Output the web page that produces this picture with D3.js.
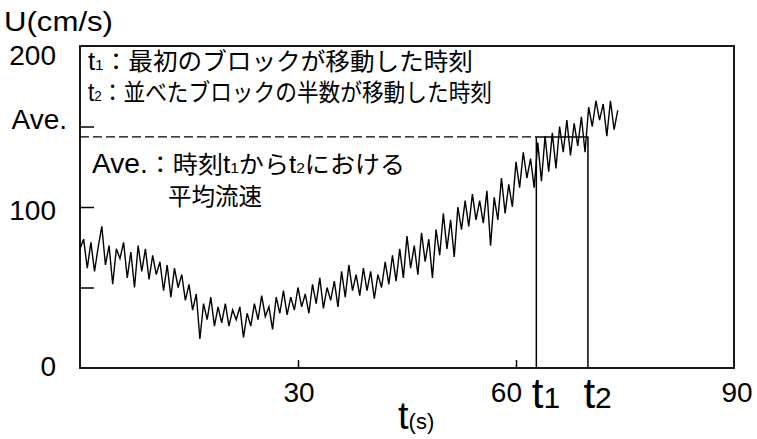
<!DOCTYPE html>
<html><head><meta charset="utf-8">
<script src="https://cdn.jsdelivr.net/npm/d3@7"></script>
<style>
html,body{margin:0;padding:0;background:#fff;}
svg{display:block;}
text{fill:#000;}
</style></head>
<body>
<svg id="c" width="757" height="439"></svg>
<script>
// ---- data ----
const sampleStep = 0.5; // seconds between samples
const velocity = [
  74, 80, 62, 78, 60, 75, 88, 64, 76, 52,
  74, 68, 78, 56, 72, 50, 76, 60, 74, 55,
  70, 58, 66, 48, 64, 44, 62, 50, 58, 42,
  52, 36, 46, 18, 40, 30, 44, 26, 38, 28,
  40, 26, 36, 30, 38, 19, 34, 26, 40, 30,
  45, 32, 38, 24, 44, 34, 48, 33, 44, 36,
  50, 38, 46, 34, 52, 40, 56, 37, 50, 42,
  54, 38, 60, 44, 64, 48, 58, 45, 62, 48,
  60, 43, 58, 50, 66, 52, 70, 54, 74, 56,
  82, 62, 76, 58, 84, 66, 80, 56, 86, 70,
  96, 74, 92, 69, 100, 86, 104, 88, 108, 92,
  104, 90, 110, 76, 106, 92, 118, 96, 114, 100,
  128, 112, 134, 118, 130, 112, 140, 116, 144, 122,
  146, 124, 150, 134, 154, 132, 152, 138, 156, 134,
  162, 150, 166, 154, 164, 144, 166, 148, 160
];
const t1 = 62.8;
const t2 = 69.9;
const aveValue = 143.5;
const yTickValues = [50, 100, 150];
const yLabelValues = [200, 150, 100, 0];
const yLabelTexts = ["200", "Ave.", "100", "0"];
const xTickValues = [30, 60];
const xLabelValues = [30, 60, 90];
const xLabelTexts = ["30", "60", "90"];
const legendLines = [
  "t1：最初のブロックが移動した時刻",
  "t2：並べたブロックの半数が移動した時刻",
  "Ave.：時刻t1からt2における",
  "平均流速"
];

// ---- chart ----
const svg = d3.select("#c");
const L = 80, R = 734, T = 46, B = 368;
const x = d3.scaleLinear().domain([0, 90]).range([L, R]);
const y = d3.scaleLinear().domain([0, 200]).range([B, T]);
const latin = "'Liberation Sans', Arial, sans-serif";
const cjk = "'Noto Sans CJK JP', sans-serif";

const series = velocity.map((v, i) => ({t: i * sampleStep, v}));

// data line
svg.append("path")
  .datum(series)
  .attr("fill", "none")
  .attr("stroke", "#000")
  .attr("stroke-width", 1.4)
  .attr("stroke-linejoin", "miter")
  .attr("d", d3.line().x(d => x(d.t)).y(d => y(d.v)));

// ticks (inside)
svg.append("g").attr("transform", `translate(${L},0)`)
  .call(d3.axisLeft(y).tickValues(yTickValues).tickSize(-14).tickFormat(""))
  .call(g => g.select(".domain").remove())
  .call(g => g.selectAll("line").attr("stroke-width", 1.5));
svg.append("g").attr("transform", `translate(0,${B})`)
  .call(d3.axisBottom(x).tickValues(xTickValues).tickSize(-8).tickFormat(""))
  .call(g => g.select(".domain").remove())
  .call(g => g.selectAll("line").attr("stroke-width", 1.5));

// dashed average line
svg.append("line")
  .attr("x1", x(0)).attr("x2", x(t1))
  .attr("y1", y(aveValue)).attr("y2", y(aveValue))
  .attr("stroke", "#000").attr("stroke-width", 1.3)
  .attr("stroke-dasharray", "9,4");

// t1-t2 box
svg.append("path")
  .attr("fill", "none").attr("stroke", "#000").attr("stroke-width", 1.5)
  .attr("d", d3.line()([[x(t1), y(0)], [x(t1), y(aveValue)], [x(t2), y(aveValue)], [x(t2), y(0)]]));

// frame
svg.append("rect")
  .attr("x", L).attr("y", T).attr("width", R - L).attr("height", B - T)
  .attr("fill", "none").attr("stroke", "#000").attr("stroke-width", 1.8);

// y labels
const yOff = [9, -8, 3, -2];
yLabelValues.forEach((v, i) => {
  svg.append("text")
    .attr("x", i === 1 ? 67 : 56)
    .attr("y", y(v) + yOff[i])
    .attr("dy", "0.36em")
    .attr("text-anchor", "end")
    .attr("font-family", latin)
    .attr("font-size", 28)
    .text(yLabelTexts[i]);
});
svg.append("text")
  .attr("x", 4).attr("y", 31)
  .attr("font-family", latin).attr("font-size", 27)
  .attr("textLength", 109).attr("lengthAdjust", "spacingAndGlyphs")
  .text("U(cm/s)");

// x labels
const xAnchor = ["middle", "end", "middle"];
const xOff = [1, 6, 3];
xLabelValues.forEach((v, i) => {
  svg.append("text")
    .attr("x", x(v) + xOff[i]).attr("y", 402)
    .attr("text-anchor", xAnchor[i])
    .attr("font-family", latin).attr("font-size", 28)
    .text(xLabelTexts[i]);
});
[[t1, "1"], [t2, "2"]].forEach(([tv, s]) => {
  const tx = svg.append("text")
    .attr("x", x(tv) - 4.5).attr("y", 408)
    .attr("font-family", latin);
  tx.append("tspan").attr("font-size", 42).text("t");
  tx.append("tspan").attr("font-size", 30).text(s);
});
const xl = svg.append("text").attr("x", 398).attr("y", 429).attr("font-family", latin);
xl.append("tspan").attr("font-size", 38).text("t");
xl.append("tspan").attr("font-size", 22).text("(s)");

// legend texts
function richLine(str, xPos, yPos, len) {
  const t = svg.append("text").attr("x", xPos).attr("y", yPos)
    .attr("font-family", cjk).attr("font-size", 24);
  const parts = str.match(/Ave\.|t[12]|[^t]+|t/g);
  parts.forEach(p => {
    if (p === "Ave.") {
      t.append("tspan").attr("font-family", latin).attr("font-size", 27).text(p);
    } else if (/^t[12]$/.test(p)) {
      t.append("tspan").attr("font-family", latin).attr("font-size", 25).text("t");
      t.append("tspan").attr("font-family", latin).attr("font-size", 15).text(p[1]);
    } else {
      t.append("tspan").text(p);
    }
  });
  if (len) t.attr("textLength", len).attr("lengthAdjust", "spacingAndGlyphs");
}
richLine(legendLines[0], 88, 70, 385);
richLine(legendLines[1], 88, 101, 404);
richLine(legendLines[2], 92, 173, 313);
richLine(legendLines[3], 168, 205, 94);
</script>
</body></html>
